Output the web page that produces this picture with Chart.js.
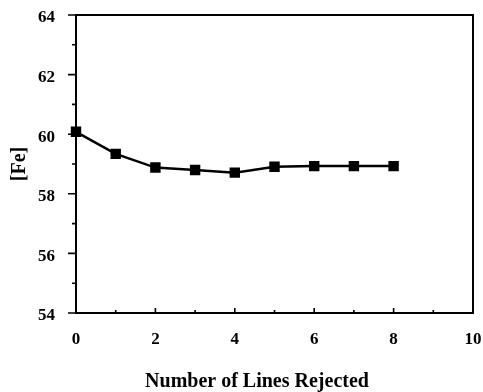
<!DOCTYPE html>
<html>
<head>
<meta charset="utf-8">
<script src="https://cdn.jsdelivr.net/npm/chart.js@4"></script>
<style>
  html, body { margin: 0; padding: 0; background: #fff; }
  #wrap { width: 483px; height: 392px; }
</style>
</head>
<body>
<div id="wrap"><canvas id="myChart" width="483" height="392"></canvas></div>
<script>
// data
const linesRejected = [0, 1, 2, 3, 4, 5, 6, 7, 8];
const feValues = [60.08, 59.34, 58.88, 58.80, 58.71, 58.91, 58.93, 58.93, 58.93];
const xTicks = [0, 2, 4, 6, 8, 10];
const yTicks = [54, 56, 58, 60, 62, 64];

const serif = "'Liberation Serif', 'Times New Roman', serif";

function pointsFrom(xs, ys){
	let pts = [];
	for(let i = 0; i < xs.length; i++){
		pts.push({x: xs[i], y: ys[i]});
	}
	return pts;
}

// frame + tick marks (major on even, minor on odd values)
const frameTicks = {
	id: "frameTicks",
	afterDraw(chart){
		const ctx = chart.ctx;
		const a = chart.chartArea;
		const xs = chart.scales.x;
		const ys = chart.scales.y;
		ctx.save();
		ctx.strokeStyle = "#000";
		ctx.lineWidth = 2;
		ctx.strokeRect(a.left, a.top, a.right - a.left, a.bottom - a.top);

		ctx.lineWidth = 1.6;
		ctx.beginPath();
		for(let v = 54; v <= 64; v++){
			let py = ys.getPixelForValue(v);
			let len = (v % 2 === 0) ? 8 : 4;
			ctx.moveTo(a.left - len, py);
			ctx.lineTo(a.left, py);
		}
		for(let v = 0; v <= 10; v++){
			let px = xs.getPixelForValue(v);
			let len = (v % 2 === 0) ? 5 : 3;
			ctx.moveTo(px, a.bottom);
			ctx.lineTo(px, a.bottom - len);
		}
		ctx.stroke();
		ctx.restore();
	}
};

const ctx = document.getElementById("myChart").getContext("2d");

let chart = new Chart(ctx, {
	type: "line",
	data: {
		datasets: [{
			data: pointsFrom(linesRejected, feValues),
			borderColor: "#000",
			backgroundColor: "#000",
			borderWidth: 2.5,
			pointStyle: "rect",
			pointRadius: 5.6,
			pointHoverRadius: 5.6,
			tension: 0,
			fill: false,
			clip: false
		}]
	},
	options: {
		responsive: false,
		animation: false,
		layout: { padding: { top: 15, right: 10, left: 0, bottom: 0 } },
		plugins: {
			legend: { display: false },
			tooltip: { enabled: false }
		},
		scales: {
			x: {
				type: "linear",
				min: 0,
				max: 10,
				afterFit(scale){
					scale.height = 79;
					scale.paddingLeft = 0;
					scale.paddingRight = 0;
				},
				grid: { display: false },
				border: { display: false },
				afterBuildTicks(scale){ scale.ticks = xTicks.map(v => ({value: v})); },
				ticks: {
					color: "#000",
					padding: 8,
					maxRotation: 0,
					font: { family: serif, size: 17, weight: "bold" }
				},
				title: {
					display: true,
					text: "Number of Lines Rejected\u00a0\u00a0\u00a0\u00a0\u00a0\u00a0\u00a0",
					color: "#000",
					padding: { top: 0, bottom: 0 },
					font: { family: serif, size: 20, weight: "bold", lineHeight: 1 }
				}
			},
			y: {
				min: 54,
				max: 64,
				afterFit(scale){
					scale.width = 76;
					scale.paddingTop = 0;
					scale.paddingBottom = 0;
				},
				grid: { display: false },
				border: { display: false },
				afterBuildTicks(scale){ scale.ticks = yTicks.map(v => ({value: v})); },
				ticks: {
					color: "#000",
					padding: 13,
					labelOffset: 3,
					font: { family: serif, size: 17, weight: "bold" }
				},
				title: {
					display: true,
					text: "[Fe]",
					color: "#000",
					padding: { top: 10, bottom: 0 },
					font: { family: serif, size: 20, weight: "bold", lineHeight: 1 }
				}
			}
		}
	},
	plugins: [frameTicks]
});
</script>
</body>
</html>
